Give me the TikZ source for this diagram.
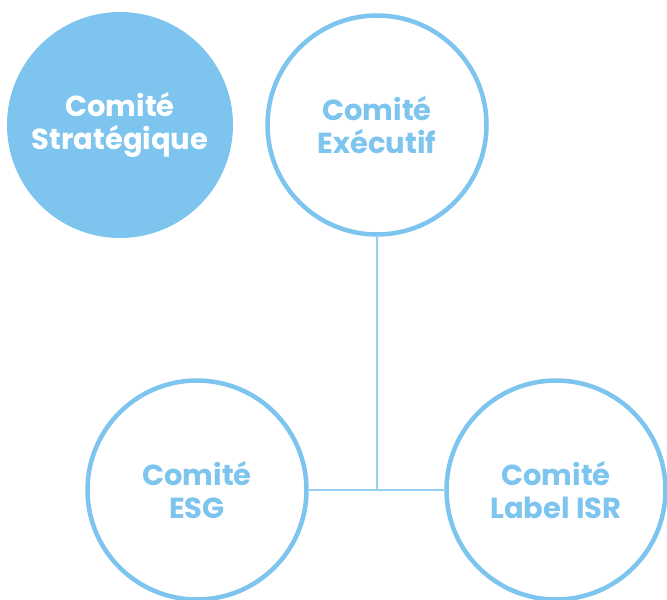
\documentclass[tikz,border=0pt]{standalone}
\usepackage{fontspec}
\setmainfont{Poppins}
\definecolor{cblue}{RGB}{125,196,238}
\definecolor{lblue}{RGB}{150,208,240}
\begin{document}
\begin{tikzpicture}[x=1pt,y=-1pt,
  ring/.style={circle,draw=cblue,line width=4.5pt,fill=white,minimum size=219pt,inner sep=0pt,
    text=cblue,font=\fontsize{29}{33}\selectfont\bfseries,align=center},
  disc/.style={circle,fill=cblue,minimum size=226pt,inner sep=0pt,
    text=white,font=\fontsize{29}{33}\selectfont\bfseries,align=center},
  link/.style={draw=lblue,line width=1.5pt}]
\useasboundingbox (0,0) rectangle (667,600);
\clip (0,0) rectangle (667,600);
\node[disc] (strat) at (120,125) {Comité\\Stratégique};
\node[ring] (exec) at (377,125) {Comité\\Exécutif};
\node[ring] (esg) at (197,490) {Comité\\ESG};
\node[ring] (isr) at (556,490) {Comité\\Label ISR};
\coordinate (j) at (377,490);
\draw[link] (exec.south) -- (j);
\draw[link] (esg.east) -- (isr.west);
\end{tikzpicture}
\end{document}
